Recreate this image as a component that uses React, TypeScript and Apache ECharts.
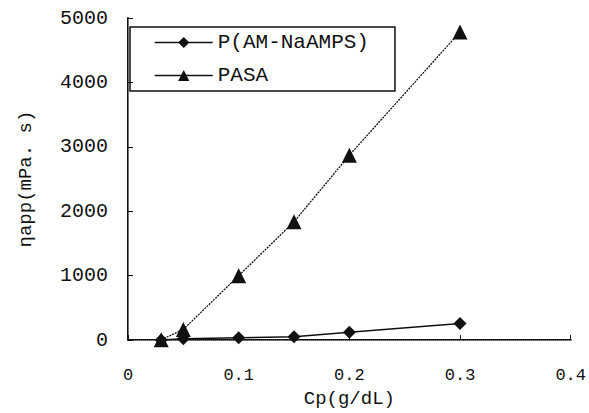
import React, { useEffect, useRef } from "react";
import * as echarts from "echarts";

// Polymer concentration (g/dL) and apparent viscosity (mPa·s)
const concentrations = [0.03, 0.05, 0.1, 0.15, 0.2, 0.3];
const copolymerViscosity = [0, 22, 37, 52, 123, 258];
const pasaViscosity = [5, 165, 1000, 1836, 2870, 4784];

const seriesNames = ["P(AM-NaAMPS)", "PASA"];
const xTicks = [0, 0.1, 0.2, 0.3, 0.4];
const yTicks = [0, 1000, 2000, 3000, 4000, 5000];

const FONT = "'Liberation Mono', 'DejaVu Sans Mono', monospace";

export default function App() {
  const ref = useRef<HTMLDivElement>(null);

  useEffect(() => {
    if (!ref.current) return;
    const chart = echarts.init(ref.current, undefined, { renderer: "svg" });
    const pair = (ys: number[]) => concentrations.map((x, i) => [x, ys[i]]);

    chart.setOption({
      animation: false,
      backgroundColor: "#fff",
      textStyle: { fontFamily: FONT, color: "#111" },
      grid: { left: 128, right: 16, top: 18, bottom: 71, containLabel: false },
      legend: {
        left: 130,
        top: 27,
        orient: "vertical",
        itemWidth: 58,
        itemHeight: 14,
        itemGap: 12,
        padding: [5, 26, 5, 24],
        borderColor: "#111",
        borderWidth: 1.5,
        lineStyle: { type: "solid", width: 1.5 },
        textStyle: { fontFamily: FONT, fontSize: 21, color: "#111" },
        data: seriesNames,
      },
      xAxis: [
        {
          type: "value",
          min: xTicks[0],
          max: xTicks[xTicks.length - 1],
          interval: 0.1,
          name: "Cp(g/dL)",
          nameLocation: "middle",
          nameGap: 48,
          nameTextStyle: { fontFamily: FONT, fontSize: 19, color: "#111" },
          axisLine: { lineStyle: { color: "#111", width: 2 } },
          axisTick: { inside: true, length: 5, lineStyle: { color: "#111" } },
          axisLabel: {
            fontFamily: FONT,
            fontSize: 17,
            color: "#111",
            margin: 27,
            formatter: (v: number) => (v === 0 ? "0" : v.toFixed(1)),
          },
          splitLine: { show: false },
        },
        {
          type: "value",
          position: "top",
          min: 0,
          max: 0.4,
          axisLine: { lineStyle: { color: "#888", width: 1, type: "dotted" } },
          axisTick: { show: false },
          axisLabel: { show: false },
          splitLine: { show: false },
        },
      ],
      yAxis: [
        {
          type: "value",
          min: yTicks[0],
          max: yTicks[yTicks.length - 1],
          interval: 1000,
          name: "ηapp(mPa. s)",
          nameLocation: "middle",
          nameGap: 93,
          nameTextStyle: { fontFamily: FONT, fontSize: 19, color: "#111" },
          axisLine: { show: true, lineStyle: { color: "#111", width: 2 } },
          axisTick: { show: true, inside: true, length: 5, lineStyle: { color: "#111" } },
          axisLabel: {
            fontFamily: FONT,
            fontSize: 20,
            color: "#111",
            margin: 20,
            formatter: (v: number) => String(v),
          },
          splitLine: { show: false },
        },
        {
          type: "value",
          position: "right",
          min: 0,
          max: 5000,
          axisLine: { show: true, lineStyle: { color: "#888", width: 1, type: "dotted" } },
          axisTick: { show: false },
          axisLabel: { show: false },
          splitLine: { show: false },
        },
      ],
      series: [
        {
          name: seriesNames[0],
          type: "line",
          data: pair(copolymerViscosity),
          symbol: "diamond",
          symbolSize: 13,
          lineStyle: { color: "#111", width: 1.5 },
          itemStyle: { color: "#111" },
        },
        {
          name: seriesNames[1],
          type: "line",
          data: pair(pasaViscosity),
          symbol: "triangle",
          symbolSize: 15,
          lineStyle: { color: "#111", width: 1.3, type: [2, 1] },
          itemStyle: { color: "#111" },
        },
      ],
    });

    return () => chart.dispose();
  }, []);

  return (
    <div
      ref={ref}
      style={{ position: "fixed", left: 0, top: 0, width: 589, height: 413, overflow: "hidden" }}
    />
  );
}
